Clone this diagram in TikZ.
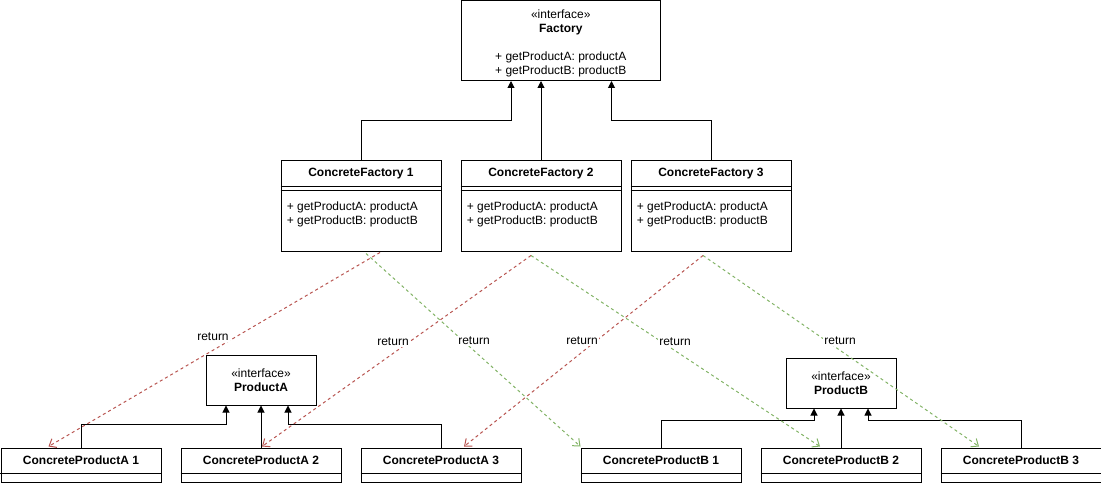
\documentclass[tikz,border=0pt]{standalone}
\usepackage{fontspec}
\setmainfont{Liberation Sans}
\usetikzlibrary{arrows.meta,calc}
\definecolor{retred}{HTML}{B85450}
\definecolor{retgreen}{HTML}{82B366}
\tikzset{
  box/.style={draw, line width=0.75pt, inner sep=0pt, anchor=north west},
  ttl/.style={font=\fontsize{9}{10.5}\selectfont\bfseries, inner sep=0pt},
  txt/.style={font=\fontsize{9}{10.5}\selectfont, inner sep=0pt, align=center},
  mth/.style={font=\fontsize{9}{10.5}\selectfont, inner sep=0pt, align=left, anchor=west},
  inh/.style={line width=0.75pt, -{Triangle[length=5.25pt,width=5.25pt]}},
  retA/.style={draw=retred, line width=0.75pt, dash pattern=on 2.25pt off 2.25pt, -{Straight Barb[length=4.5pt,width=7.5pt]}},
  retB/.style={draw=retgreen, line width=0.75pt, dash pattern=on 2.25pt off 2.25pt, -{Straight Barb[length=4.5pt,width=7.5pt]}},
  lbl/.style={font=\fontsize{9}{10.5}\selectfont, fill=white, inner sep=0.75pt}
}
\begin{document}
\begin{tikzpicture}[x=0.75pt,y=-0.75pt]
\useasboundingbox (0,0) rectangle (1101,485);
\node[box, minimum width=149.625pt, minimum height=59.625pt] (fac) at (460.5,0.5) {};
\node[txt] (factxt) at ($(fac.center)+(0,2.5)$) {«interface»\\\textbf{Factory}\\[11pt]+ getProductA: productA\\+ getProductB: productB};

\node[box, minimum width=120pt, minimum height=67.5pt] (cf1) at (280.5,160.5) {};
\node[box, minimum width=120pt, minimum height=67.5pt] (cf2) at (460.5,160.5) {};
\node[box, minimum width=120pt, minimum height=67.5pt] (cf3) at (630.5,160.5) {};
\node[ttl] (cf1t) at ($(cf1.north)+(0,13)$) {ConcreteFactory 1};
\node[ttl] (cf2t) at ($(cf2.north)+(0,13)$) {ConcreteFactory 2};
\node[ttl] (cf3t) at ($(cf3.north)+(0,13)$) {ConcreteFactory 3};
\draw[line width=0.75pt] ($(cf1.north west)+(0,26)$) -- ($(cf1.north east)+(0,26)$);
\draw[line width=0.75pt] ($(cf1.north west)+(0,30)$) -- ($(cf1.north east)+(0,30)$);
\draw[line width=0.75pt] ($(cf2.north west)+(0,26)$) -- ($(cf2.north east)+(0,26)$);
\draw[line width=0.75pt] ($(cf2.north west)+(0,30)$) -- ($(cf2.north east)+(0,30)$);
\draw[line width=0.75pt] ($(cf3.north west)+(0,26)$) -- ($(cf3.north east)+(0,26)$);
\draw[line width=0.75pt] ($(cf3.north west)+(0,30)$) -- ($(cf3.north east)+(0,30)$);
\node[mth] (cf1m) at ($(cf1.north west)+(6,54)$) {+ getProductA: productA\\+ getProductB: productB};
\node[mth] (cf2m) at ($(cf2.north west)+(6,54)$) {+ getProductA: productA\\+ getProductB: productB};
\node[mth] (cf3m) at ($(cf3.north west)+(6,54)$) {+ getProductA: productA\\+ getProductB: productB};

\node[box, minimum width=82.5pt, minimum height=37.5pt] (pa) at (205.5,354.5) {};
\node[box, minimum width=82.5pt, minimum height=37.5pt] (pb) at (785.5,357.5) {};
\node[txt] (patxt) at (pa.center) {«interface»\\\textbf{ProductA}};
\node[txt] (pbtxt) at (pb.center) {«interface»\\\textbf{ProductB}};

\node[box, minimum width=120pt, minimum height=25.5pt] (cpa1) at (0.5,447.5) {};
\node[box, minimum width=120pt, minimum height=25.5pt] (cpa2) at (180.5,447.5) {};
\node[box, minimum width=120pt, minimum height=25.5pt] (cpa3) at (360.5,447.5) {};
\node[box, minimum width=120pt, minimum height=25.5pt] (cpb1) at (580.5,447.5) {};
\node[box, minimum width=120pt, minimum height=25.5pt] (cpb2) at (760.5,447.5) {};
\node[box, minimum width=120pt, minimum height=25.5pt] (cpb3) at (940.5,447.5) {};
\node[ttl] (cpa1t) at ($(cpa1.north)+(0,13)$) {ConcreteProductA 1};
\node[ttl] (cpa2t) at ($(cpa2.north)+(0,13)$) {ConcreteProductA 2};
\node[ttl] (cpa3t) at ($(cpa3.north)+(0,13)$) {ConcreteProductA 3};
\node[ttl] (cpb1t) at ($(cpb1.north)+(0,13)$) {ConcreteProductB 1};
\node[ttl] (cpb2t) at ($(cpb2.north)+(0,13)$) {ConcreteProductB 2};
\node[ttl] (cpb3t) at ($(cpb3.north)+(0,13)$) {ConcreteProductB 3};
\draw[line width=0.75pt] ($(cpa1.north west)+(0,26)$) -- ($(cpa1.north east)+(0,26)$);
\draw[line width=0.75pt] ($(cpa2.north west)+(0,26)$) -- ($(cpa2.north east)+(0,26)$);
\draw[line width=0.75pt] ($(cpa3.north west)+(0,26)$) -- ($(cpa3.north east)+(0,26)$);
\draw[line width=0.75pt] ($(cpb1.north west)+(0,26)$) -- ($(cpb1.north east)+(0,26)$);
\draw[line width=0.75pt] ($(cpb2.north west)+(0,26)$) -- ($(cpb2.north east)+(0,26)$);
\draw[line width=0.75pt] ($(cpb3.north west)+(0,26)$) -- ($(cpb3.north east)+(0,26)$);

\draw[inh] (cf1.north) -- ++(0,-40) -| ($(fac.south west)+(50.5,0)$);
\draw[inh] (cf2.north) -- (cf2.north |- fac.south);
\draw[inh] (cf3.north) -- ++(0,-40) -| ($(fac.south east)+(-49.5,0)$);
\draw[inh] (cpa1.north) -- ++(0,-23) -| ($(pa.south west)+(20.5,0)$);
\draw[inh] (cpa2.north) -- (pa.south);
\draw[inh] (cpa3.north) -- ++(0,-23) -| ($(pa.south east)+(-28.5,0)$);
\draw[inh] (cpb1.north) -- ++(0,-27) -| ($(pb.south west)+(28.5,0)$);
\draw[inh] (cpb2.north) -- (pb.south);
\draw[inh] (cpb3.north) -- ++(0,-27) -| ($(pb.south east)+(-28.5,0)$);

\draw[retA] ($(cf1.south)+(19,1)$) -- ($(cpa1.north west)+(48,-1)$) node[lbl] (r1) at (213,337) {return};
\draw[retB] ($(cf1.south)+(5,2)$) -- ($(cpb1.north west)+(0,-1)$) node[lbl] (r2) at (474,341) {return};
\draw[retA] ($(cf2.south)+(-10,4)$) -- ($(cpa2.north)+(1,-1)$) node[lbl] (r3) at (393,342) {return};
\draw[retB] ($(cf2.south)+(-10,4)$) -- ($(cpb2.north)+(-21,-1)$) node[lbl] (r4) at (675,342) {return};
\draw[retA] ($(cf3.south)+(-8,4)$) -- ($(cpa3.north)+(23,-1)$) node[lbl] (r5) at (582,341) {return};
\draw[retB] ($(cf3.south)+(-8,4)$) -- ($(cpb3.north)+(-42,-1)$) node[lbl] (r6) at (840,341) {return};
\end{tikzpicture}
\end{document}
